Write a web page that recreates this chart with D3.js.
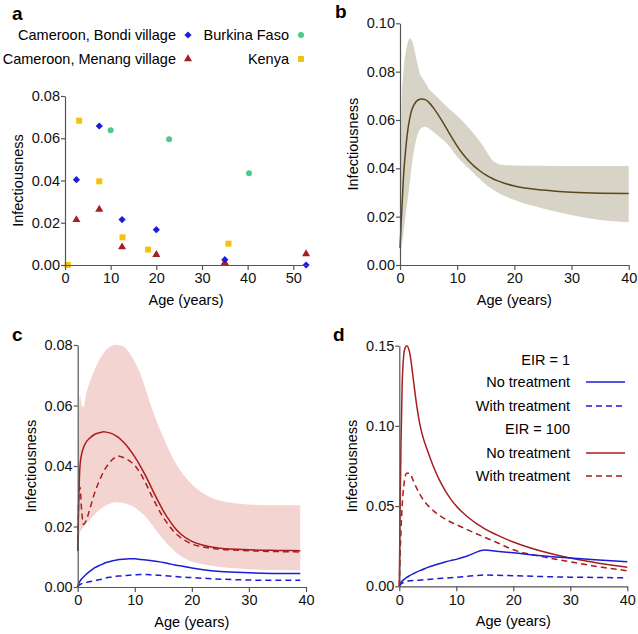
<!DOCTYPE html>
<html>
<head>
<meta charset="utf-8">
<script src="https://cdn.jsdelivr.net/npm/d3@7"></script>
<style>
  body { margin: 0; background: #fff; }
  text { font-family: "Liberation Sans", Arial, sans-serif; }
</style>
</head>
<body>
<script>
// ---- panel a : observed infectiousness by age ----
var bondiAge = [2.5, 7.5, 12.5, 20, 35, 52.8];
var bondiVal = [0.0404, 0.0658, 0.0215, 0.0167, 0.0025, 0.0];
var menangAge = [2.5, 7.5, 12.5, 20, 35, 52.8];
var menangVal = [0.0214, 0.0263, 0.0085, 0.0049, 0.0011, 0.0052];
var burkinaAge = [10, 22.8, 40.3];
var burkinaVal = [0.0638, 0.0595, 0.0434];
var kenyaAge = [0.6, 3.1, 7.5, 12.6, 18.2, 35.8];
var kenyaVal = [0.0, 0.0683, 0.0396, 0.0131, 0.0073, 0.0101];

// ---- panel b : fitted curve with band ----
var bAge   = [0, 0.3, 0.6, 1, 1.5, 1.75, 2, 2.5, 2.9, 3.5, 3.8, 4.4, 5, 6, 7, 8, 9, 10, 11, 12, 13, 14, 15, 16, 17, 18, 20, 25, 30, 35, 40];
var bMean  = [0.007, 0.022, 0.036, 0.048, 0.058, 0.0612, 0.0637, 0.0665, 0.0678, 0.0686, 0.0687, 0.0684, 0.0674, 0.0645, 0.061, 0.057, 0.053, 0.0492, 0.0459, 0.0431, 0.0408, 0.0389, 0.0373, 0.036, 0.0349, 0.034, 0.0327, 0.031, 0.0301, 0.0297, 0.0296];
var bUpper = [0.012, 0.067, 0.08, 0.088, 0.093, 0.0938, 0.0932, 0.0895, 0.0848, 0.079, 0.0778, 0.0755, 0.073, 0.0706, 0.0683, 0.066, 0.0638, 0.0617, 0.0594, 0.0568, 0.054, 0.051, 0.0475, 0.0438, 0.042, 0.0414, 0.0412, 0.0411, 0.041, 0.041, 0.041];
var bLower = [0.003, 0.008, 0.013, 0.021, 0.03, 0.035, 0.04, 0.048, 0.0525, 0.0562, 0.0568, 0.0572, 0.0566, 0.0548, 0.0528, 0.0508, 0.048, 0.0448, 0.0423, 0.040, 0.0377, 0.0355, 0.0333, 0.0316, 0.0301, 0.0289, 0.0269, 0.0234, 0.0207, 0.0186, 0.0177];

// ---- panel c : EIR 100 band, treatment comparison ----
var cAge       = [0, 0.2, 0.4, 0.7, 1, 1.5, 2, 3, 4, 4.5, 5, 6, 6.5, 7, 8, 9, 10, 11, 12, 13, 14, 15, 16, 17, 18, 20, 22, 25, 30, 35, 39];
var cRedSolid  = [0.012, 0.030, 0.040, 0.044, 0.046, 0.048, 0.049, 0.0505, 0.0511, 0.0513, 0.0512, 0.0507, 0.0502, 0.0496, 0.0479, 0.0457, 0.043, 0.0399, 0.0364, 0.0325, 0.0287, 0.0252, 0.0222, 0.0196, 0.0176, 0.0151, 0.0138, 0.0128, 0.0123, 0.0121, 0.012];
var cRedDash   = [0.012, 0.030, 0.033, 0.025, 0.0207, 0.022, 0.025, 0.0313, 0.036, 0.038, 0.0396, 0.042, 0.0428, 0.0433, 0.0428, 0.0418, 0.0402, 0.0375, 0.034, 0.030, 0.0263, 0.023, 0.0203, 0.018, 0.0164, 0.0142, 0.0132, 0.0125, 0.012, 0.0117, 0.0116];
var cUpper     = [0.030, 0.055, 0.0635, 0.060, 0.0595, 0.064, 0.067, 0.072, 0.0758, 0.0772, 0.0785, 0.0797, 0.080, 0.080, 0.0795, 0.0775, 0.0745, 0.0705, 0.0648, 0.059, 0.054, 0.0495, 0.0452, 0.0415, 0.0385, 0.034, 0.031, 0.0285, 0.0273, 0.027, 0.027];
var cLower     = [0.012, 0.016, 0.018, 0.019, 0.0197, 0.021, 0.022, 0.024, 0.0258, 0.0264, 0.027, 0.0278, 0.028, 0.028, 0.0278, 0.0272, 0.0263, 0.0248, 0.023, 0.0207, 0.018, 0.0157, 0.0136, 0.0118, 0.0103, 0.0084, 0.0075, 0.0066, 0.0059, 0.0056, 0.0055];
var cBlueSolid = [0, 0.0012, 0.0019, 0.0027, 0.0033, 0.0042, 0.005, 0.0064, 0.0073, 0.0077, 0.0081, 0.0086, 0.0088, 0.009, 0.0092, 0.0093, 0.0093, 0.0091, 0.0089, 0.0087, 0.0084, 0.0081, 0.0077, 0.0073, 0.007, 0.0063, 0.0057, 0.0051, 0.0047, 0.0045, 0.0045];
var cBlueDash  = [0, 0.0005, 0.0008, 0.0011, 0.0013, 0.0015, 0.0017, 0.0021, 0.0025, 0.0027, 0.003, 0.0033, 0.0035, 0.0036, 0.0037, 0.0039, 0.004, 0.0041, 0.0041, 0.004, 0.0039, 0.0038, 0.0036, 0.0035, 0.0033, 0.0031, 0.0029, 0.0026, 0.0023, 0.0022, 0.0022];

// ---- panel d : EIR 1 vs EIR 100 ----
var dAge       = [0, 0.15, 0.3, 0.5, 0.8, 1, 1.3, 1.8, 2.5, 3, 3.5, 4, 5, 6, 7, 8, 9, 10, 12, 15, 17, 20, 25, 30, 35, 40];
var dRedSolid  = [0, 0.05, 0.09, 0.125, 0.145, 0.1485, 0.150, 0.146, 0.128, 0.114, 0.103, 0.095, 0.084, 0.0745, 0.0665, 0.060, 0.0545, 0.050, 0.0432, 0.0358, 0.0322, 0.0276, 0.0218, 0.0176, 0.0144, 0.0119];
var dRedDash   = [0, 0.02, 0.035, 0.05, 0.063, 0.068, 0.0705, 0.0705, 0.0655, 0.0615, 0.058, 0.055, 0.0505, 0.047, 0.0443, 0.042, 0.0401, 0.0385, 0.0352, 0.0305, 0.0275, 0.0228, 0.0185, 0.0153, 0.0122, 0.0097];
var dBlueSolid = [0, 0.0015, 0.0025, 0.0033, 0.0042, 0.0047, 0.0055, 0.0066, 0.0079, 0.0088, 0.0096, 0.0103, 0.0118, 0.013, 0.014, 0.0151, 0.016, 0.0168, 0.019, 0.0226, 0.0219, 0.0209, 0.019, 0.0176, 0.0164, 0.0153];
var dBlueDash  = [0, 0.0008, 0.0014, 0.002, 0.0026, 0.0029, 0.0031, 0.0034, 0.0036, 0.0037, 0.0038, 0.004, 0.0043, 0.0046, 0.0049, 0.0051, 0.0054, 0.0056, 0.0062, 0.007, 0.0069, 0.0066, 0.0061, 0.0057, 0.0055, 0.0052];

var yTicksA = [0, 0.02, 0.04, 0.06, 0.08];
var yTicksB = [0, 0.02, 0.04, 0.06, 0.08, 0.10];
var yTicksC = [0, 0.02, 0.04, 0.06, 0.08];
var yTicksD = [0, 0.05, 0.10, 0.15];
var xTicksA = [0, 10, 20, 30, 40, 50];
var xTicks  = [0, 10, 20, 30, 40];

var blue = "#1c1cd8";
var red = "#a81d1d";

var svg = d3.select("body").append("svg")
  .attr("width", 638)
  .attr("height", 634);

function panel(letter, lx, ly, xr, yr, xdom, ydom, xt, yt) {
  var x = d3.scaleLinear().domain(xdom).range(xr);
  var y = d3.scaleLinear().domain(ydom).range(yr);
  var g = svg.append("g");
  g.append("g").attr("class", "plot");
  var xa = g.append("g")
    .attr("transform", "translate(0," + yr[0] + ")")
    .call(d3.axisBottom(x).tickValues(xt).tickSize(5).tickPadding(3).tickSizeOuter(0));
  var ya = g.append("g")
    .attr("transform", "translate(" + xr[0] + ",0)")
    .call(d3.axisLeft(y).tickValues(yt).tickFormat(d3.format(".2f")).tickSize(4).tickPadding(1).tickSizeOuter(0));
  [xa, ya].forEach(function(a) {
    a.selectAll("path, line").attr("stroke", "#555").attr("stroke-width", 1.2);
    a.selectAll("text").attr("font-size", "14.5px").attr("fill", "#111")
      .style("font-family", "'Liberation Sans', Arial, sans-serif");
  });
  g.append("text")
    .attr("x", (xr[0] + xr[1]) / 2)
    .attr("y", yr[0] + 40)
    .attr("text-anchor", "middle")
    .attr("font-size", "14.5px")
    .text("Age (years)");
  g.append("text")
    .attr("transform", "translate(" + (xr[0] - 42) + "," + ((yr[0] + yr[1]) / 2) + ") rotate(-90)")
    .attr("text-anchor", "middle")
    .attr("font-size", "14.5px")
    .text("Infectiousness");
  svg.append("text")
    .attr("x", lx).attr("y", ly)
    .attr("font-size", "19px")
    .attr("font-weight", "bold")
    .text(letter);
  return { x: x, y: y, g: g.select(".plot") };
}

function zip(ax, vals) {
  return ax.map(function(a, i) { return [a, vals[i]]; });
}

function drawLine(p, ax, vals, color, dashed) {
  var line = d3.line()
    .x(function(d) { return p.x(d[0]); })
    .y(function(d) { return p.y(d[1]); })
    .curve(d3.curveMonotoneX);
  p.g.append("path")
    .attr("d", line(zip(ax, vals)))
    .attr("fill", "none")
    .attr("stroke", color)
    .attr("stroke-width", 1.5)
    .attr("stroke-dasharray", dashed ? "6,4" : null);
}

function drawBand(p, ax, lo, hi, color) {
  var area = d3.area()
    .x(function(d) { return p.x(d[0]); })
    .y0(function(d) { return p.y(d[1]); })
    .y1(function(d) { return p.y(d[2]); })
    .curve(d3.curveMonotoneX);
  p.g.append("path")
    .attr("d", area(ax.map(function(a, i) { return [a, lo[i], hi[i]]; })))
    .attr("fill", color);
}

// ---------- a ----------
var pa = panel("a", 12, 20, [65, 307], [265, 96], [0, 53], [0, 0.08], xTicksA, yTicksA);

var markerSets = [
  { ages: kenyaAge, vals: kenyaVal, type: d3.symbolSquare, size: 36, color: "#f4c20d", rot: 0 },
  { ages: burkinaAge, vals: burkinaVal, type: d3.symbolCircle, size: 28, color: "#4cc98c", rot: 0 },
  { ages: menangAge, vals: menangVal, type: d3.symbolTriangle, size: 28, color: red, rot: 0 },
  { ages: bondiAge, vals: bondiVal, type: d3.symbolSquare, size: 26, color: blue, rot: 45 }
];
markerSets.forEach(function(m) {
  pa.g.selectAll(null)
    .data(zip(m.ages, m.vals))
    .enter().append("path")
    .attr("d", d3.symbol().type(m.type).size(m.size))
    .attr("transform", function(d) {
      return "translate(" + pa.x(d[0]) + "," + pa.y(d[1]) + ") rotate(" + m.rot + ")";
    })
    .attr("fill", m.color);
});

var legendA = [
  { label: "Cameroon, Bondi village", lx: 188, ly: 35, m: markerSets[3] },
  { label: "Burkina Faso", lx: 301, ly: 35, m: markerSets[1] },
  { label: "Cameroon, Menang village", lx: 188, ly: 59, m: markerSets[2] },
  { label: "Kenya", lx: 301, ly: 59, m: markerSets[0] }
];
legendA.forEach(function(l) {
  svg.append("path")
    .attr("d", d3.symbol().type(l.m.type).size(l.m.size))
    .attr("transform", "translate(" + l.lx + "," + l.ly + ") rotate(" + l.m.rot + ")")
    .attr("fill", l.m.color);
  svg.append("text")
    .attr("x", l.lx - 12).attr("y", l.ly + 5)
    .attr("text-anchor", "end")
    .attr("font-size", "14.5px")
    .text(l.label);
});

// ---------- b ----------
var pb = panel("b", 335, 18, [400, 628.7], [265, 23.3], [0, 40], [0, 0.1], xTicks, yTicksB);
drawBand(pb, bAge, bLower, bUpper, "#d8d3c7");
drawLine(pb, bAge, bMean, "#5a4818", false);

// ---------- c ----------
var pc = panel("c", 12, 341, [77.7, 306], [587, 345], [0, 40], [0, 0.08], xTicks, yTicksC);
drawBand(pc, cAge, cLower, cUpper, "#f4d4d1");
drawLine(pc, cAge, cRedSolid, red, false);
drawLine(pc, cAge, cRedDash, red, true);
drawLine(pc, cAge, cBlueSolid, blue, false);
drawLine(pc, cAge, cBlueDash, blue, true);

// ---------- d ----------
var pd = panel("d", 333, 341, [399.3, 627.3], [586.3, 345.7], [0, 40], [0, 0.15], xTicks, yTicksD);
drawLine(pd, dAge, dRedSolid, red, false);
drawLine(pd, dAge, dRedDash, red, true);
drawLine(pd, dAge, dBlueSolid, blue, false);
drawLine(pd, dAge, dBlueDash, blue, true);

var legendD = [
  { label: "EIR = 1", y: 360, color: null },
  { label: "No treatment", y: 382, color: blue, dashed: false },
  { label: "With treatment", y: 406, color: blue, dashed: true },
  { label: "EIR = 100", y: 429, color: null },
  { label: "No treatment", y: 453, color: red, dashed: false },
  { label: "With treatment", y: 476, color: red, dashed: true }
];
legendD.forEach(function(l) {
  svg.append("text")
    .attr("x", 570).attr("y", l.y + 5)
    .attr("text-anchor", "end")
    .attr("font-size", "14.5px")
    .text(l.label);
  if (l.color) {
    svg.append("line")
      .attr("x1", 586).attr("x2", 625)
      .attr("y1", l.y).attr("y2", l.y)
      .attr("stroke", l.color)
      .attr("stroke-width", 1.5)
      .attr("stroke-dasharray", l.dashed ? "6,4" : null);
  }
});
</script>
</body>
</html>
